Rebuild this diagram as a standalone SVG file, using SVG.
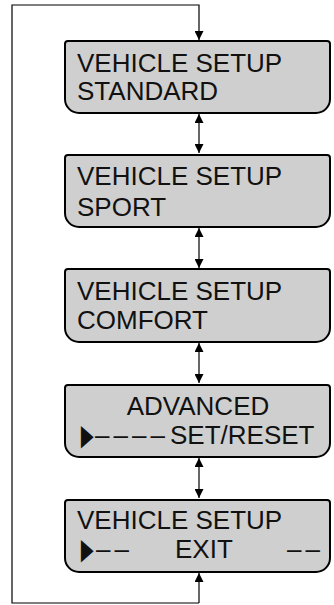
<svg xmlns="http://www.w3.org/2000/svg" width="334" height="605" viewBox="0 0 334 605">
<style>
.box{fill:#cfcfcf;stroke:#000;stroke-width:2}
.t{font-family:"Liberation Sans",Arial,sans-serif;font-size:26px;fill:#111}
.sym{font-family:"Noto Sans CJK JP",sans-serif;font-size:24px;fill:#111}
.ln{fill:none;stroke:#000;stroke-width:1.2}
.dash{letter-spacing:4px}
</style>
<defs>
<marker id="ah" viewBox="0 0 10 10" refX="10" refY="5" markerWidth="9" markerHeight="9" markerUnits="userSpaceOnUse" orient="auto-start-reverse">
<path d="M0,0 L10,5 L0,10 Z" fill="#000"/>
</marker>
</defs>
<rect width="334" height="605" fill="#fff"/>
<g id="connectors">
<polyline class="ln" points="199,603 12,603 12,5 199,5 199,40" marker-end="url(#ah)"/>
<line class="ln" x1="199" y1="603" x2="199" y2="573" marker-end="url(#ah)"/>
<line class="ln" x1="199" y1="114" x2="199" y2="153" marker-start="url(#ah)" marker-end="url(#ah)"/>
<line class="ln" x1="199" y1="228" x2="199" y2="268" marker-start="url(#ah)" marker-end="url(#ah)"/>
<line class="ln" x1="199" y1="343" x2="199" y2="383" marker-start="url(#ah)" marker-end="url(#ah)"/>
<line class="ln" x1="199" y1="458" x2="199" y2="498" marker-start="url(#ah)" marker-end="url(#ah)"/>
</g>
<g id="standard">
<path class="box" d="M68,41 H327 Q330,41 330,44 V99 A14,14 0 0 1 316,113 H79 A14,14 0 0 1 65,99 V44 Q65,41 68,41 Z"/>
<text class="t" x="77" y="72">VEHICLE SETUP</text>
<text class="t" x="77" y="100">STANDARD</text>
</g>
<g id="sport">
<path class="box" d="M68,155 H327 Q330,155 330,158 V213 A14,14 0 0 1 316,227 H79 A14,14 0 0 1 65,213 V158 Q65,155 68,155 Z"/>
<text class="t" x="77" y="185">VEHICLE SETUP</text>
<text class="t" x="77" y="216">SPORT</text>
</g>
<g id="comfort">
<path class="box" d="M68,269 H327 Q330,269 330,272 V328 A14,14 0 0 1 316,342 H79 A14,14 0 0 1 65,328 V272 Q65,269 68,269 Z"/>
<text class="t" x="77" y="300">VEHICLE SETUP</text>
<text class="t" x="77" y="329">COMFORT</text>
</g>
<g id="advanced">
<path class="box" d="M68,385 H327 Q330,385 330,388 V443 A14,14 0 0 1 316,457 H79 A14,14 0 0 1 65,443 V388 Q65,385 68,385 Z"/>
<text class="t" x="198" y="415" text-anchor="middle">ADVANCED</text>
<text class="sym" transform="translate(79,446) scale(0.65,1)">▶</text>
<text class="t" x="95" y="444"><tspan class="dash">––––</tspan><tspan x="170">SET/RESET</tspan></text>
</g>
<g id="exit">
<path class="box" d="M68,500 H327 Q330,500 330,503 V558 A14,14 0 0 1 316,572 H79 A14,14 0 0 1 65,558 V503 Q65,500 68,500 Z"/>
<text class="t" x="77" y="529">VEHICLE SETUP</text>
<text class="sym" transform="translate(79,560) scale(0.65,1)">▶</text>
<text class="t" x="96" y="558"><tspan class="dash">––</tspan><tspan x="175">EXIT</tspan><tspan x="287" class="dash">––</tspan></text>
</g>
</svg>
